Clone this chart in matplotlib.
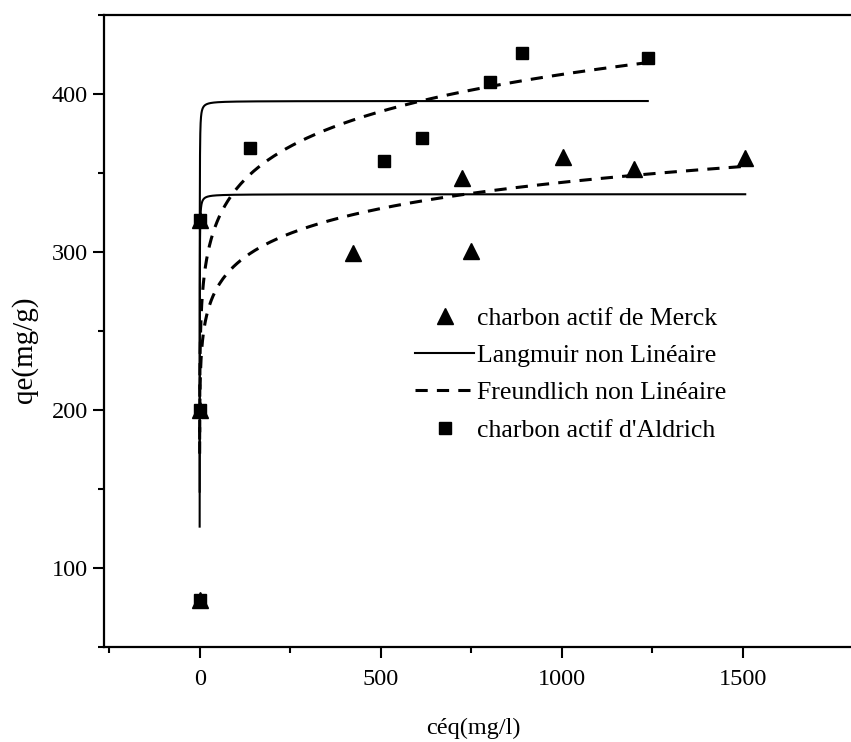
import numpy as np
import matplotlib
matplotlib.use("Agg")
import matplotlib.pyplot as plt
from matplotlib.ticker import MultipleLocator, FixedLocator

plt.rcParams['font.family'] = ['Liberation Serif', 'DejaVu Serif']

# Merck activated carbon (triangles)
merck_c = [0, 0, 0, 422, 724, 750, 1002, 1200, 1506]
merck_q = [80, 200, 320, 299.6, 346.6, 300.6, 360.3, 352.5, 359.7]

# Aldrich activated carbon (squares)
aldrich_c = [0, 0, 0, 140, 509, 614, 801, 891, 1237]
aldrich_q = [80, 200, 320, 365.6, 357.4, 372.3, 407.6, 426, 423]

# fitted parameters
lang_merck = (336.5, 10.0)      # qm, K
lang_aldrich = (395.5, 10.0)
freu_merck = (210.5, 0.0711)    # Kf, 1/n
freu_aldrich = (230.0, 0.0845)
c_start = 0.06

fig = plt.figure(figsize=(8.51, 7.42), dpi=100)
ax = fig.add_axes([0.1222, 0.128, 0.8778, 0.852])

cm = np.concatenate([np.geomspace(c_start, 50, 200), np.linspace(50, max(merck_c), 300)])
ca = np.concatenate([np.geomspace(c_start, 50, 200), np.linspace(50, max(aldrich_c), 300)])

def langmuir(c, qm, k):
    return qm * k * c / (1 + k * c)

def freundlich(c, kf, n_inv):
    return kf * c ** n_inv

ax.plot(cm, langmuir(cm, *lang_merck), color='black', lw=1.5, zorder=2)
ax.plot(ca, langmuir(ca, *lang_aldrich), color='black', lw=1.5, zorder=2)
ax.plot(cm, freundlich(cm, *freu_merck), color='black', lw=2.2, ls=(0, (4, 3)), zorder=2)
ax.plot(ca, freundlich(ca, *freu_aldrich), color='black', lw=2.2, ls=(0, (4, 3)), zorder=2)

ax.plot(aldrich_c, aldrich_q, ls='none', marker='s', ms=9, color='black', zorder=3)
ax.plot(merck_c, merck_q, ls='none', marker='^', ms=11.5, color='black', zorder=3)

# legend handles
h1, = ax.plot([], [], ls='none', marker='^', ms=11.5, color='black')
h2, = ax.plot([], [], color='black', lw=1.5)
h3, = ax.plot([], [], color='black', lw=2.2, ls=(0, (4, 3)))
h4, = ax.plot([], [], ls='none', marker='s', ms=9, color='black')
ax.legend([h1, h2, h3, h4],
          ['charbon actif de Merck', 'Langmuir non Linéaire',
           'Freundlich non Linéaire', "charbon actif d'Aldrich"],
          loc='upper left', bbox_to_anchor=(0.4877, 0.586), bbox_transform=fig.transFigure,
          frameon=False, fontsize=18.5, handlelength=2.3, handletextpad=0.12,
          labelspacing=0.55, borderpad=0, borderaxespad=0)

ax.set_xlim(-264, 1798)
ax.set_ylim(50, 450)
ax.xaxis.set_major_locator(MultipleLocator(500))
ax.xaxis.set_minor_locator(FixedLocator([-250, 250, 750, 1250]))
ax.yaxis.set_major_locator(MultipleLocator(100))
ax.yaxis.set_minor_locator(MultipleLocator(50))
ax.tick_params(which='major', direction='out', length=8, width=1.5, labelsize=17.5)
ax.tick_params(which='minor', direction='out', length=4.5, width=1.5)
ax.tick_params(axis='x', pad=8)

ax.spines['right'].set_visible(False)
for s in ['left', 'bottom', 'top']:
    ax.spines[s].set_linewidth(1.6)

ax.set_xlabel('céq(mg/l)', fontsize=17.5)
ax.set_ylabel('qe(mg/g)', fontsize=21)
ax.xaxis.set_label_coords(0.494, -0.112)
ax.yaxis.set_label_coords(-0.088, 0.47)

fig.savefig('out.png', dpi=100)
